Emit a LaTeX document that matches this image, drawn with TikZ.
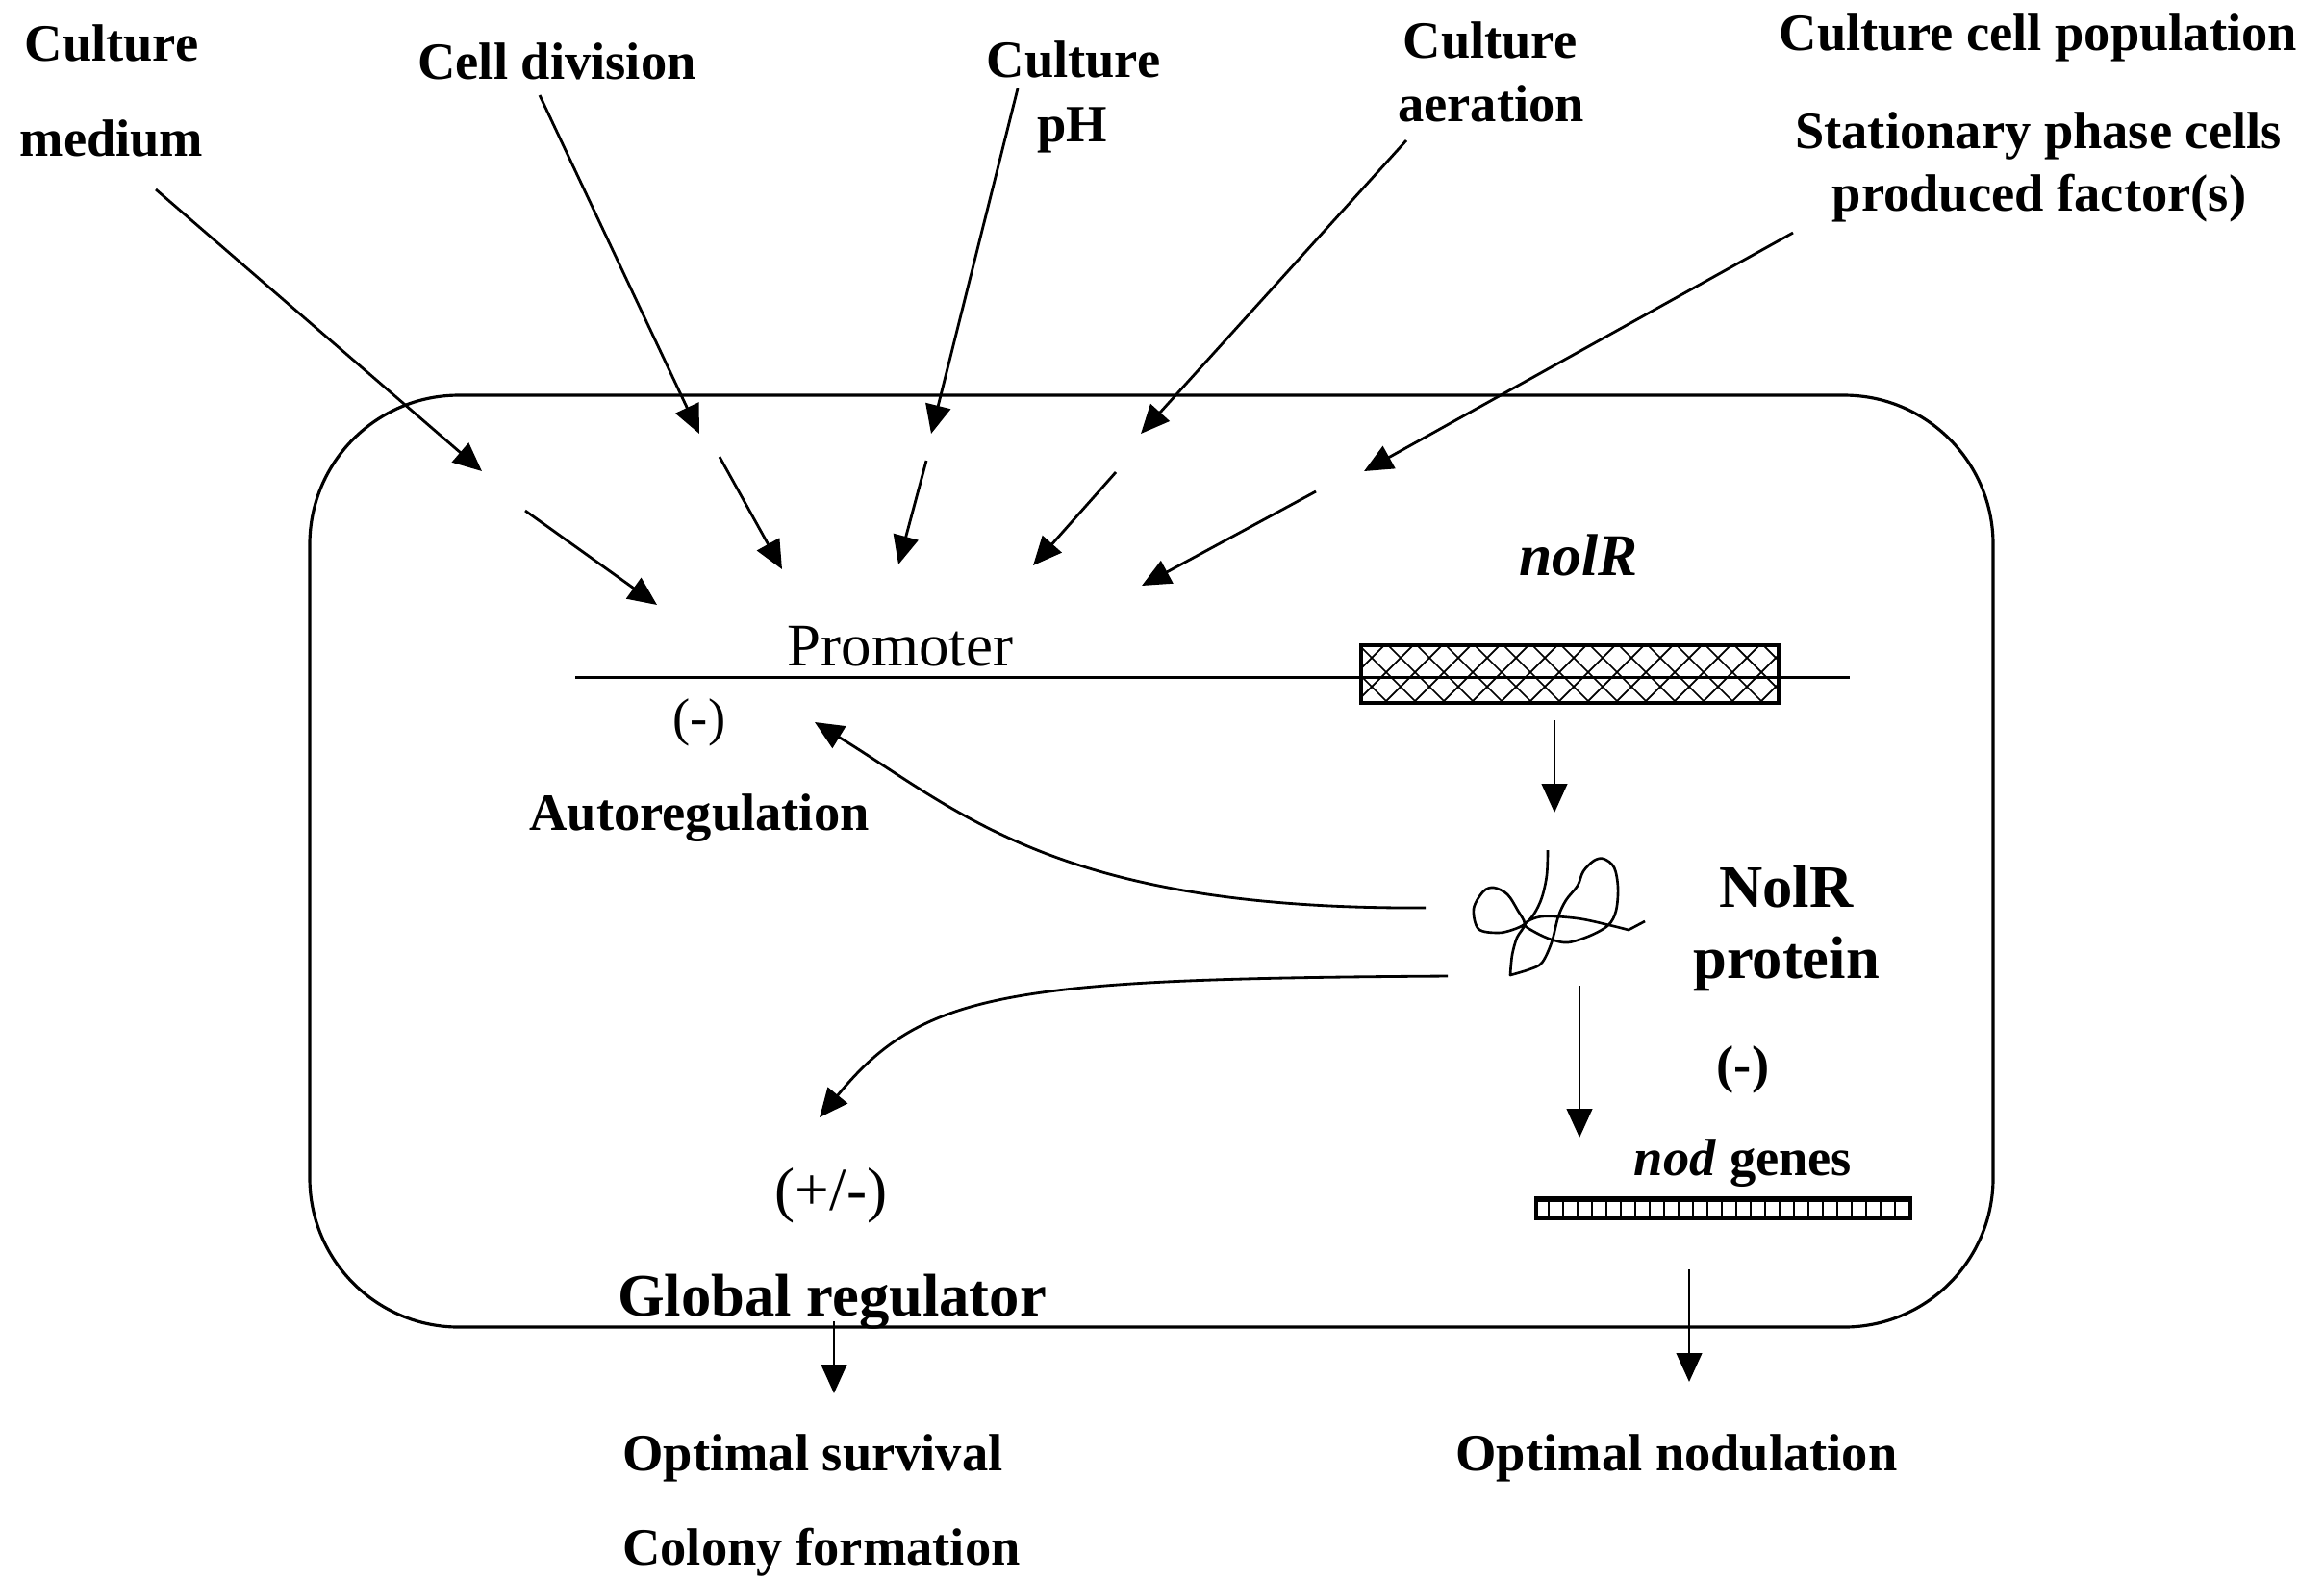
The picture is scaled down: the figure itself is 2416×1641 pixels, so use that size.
\documentclass[tikz,border=0pt]{standalone}
\usepackage{fontspec}
\setmainfont{Liberation Serif}
\usetikzlibrary{arrows.meta}
\begin{document}
\begin{tikzpicture}[x=0.01cm,y=-0.01cm,
  lab/.style={font=\bfseries\fontsize{15.5}{18}\selectfont,inner sep=0pt,anchor=base},
  biglab/.style={font=\bfseries\fontsize{17.8}{21}\selectfont,inner sep=0pt,anchor=base},
  sign/.style={font=\fontsize{15.5}{18}\selectfont,inner sep=0pt},
  arr/.style={line width=0.8pt,-{Triangle[length=8.5pt,width=7.5pt]}},
  wall/.style={line width=0.9pt},
  hatch/.style={line width=0.5pt}]

\useasboundingbox (0,0) rectangle (2416,1641);
\fill[white] (0,0) rectangle (2416,1641);

% the cell
\draw[wall, rounded corners=1.55cm] (322,411) rectangle (2072,1380);

% external conditions
\node[lab] (cm1) at (116,63) {Culture};
\node[lab] (cm2) at (116,162) {medium};
\node[lab] (cdiv) at (579,82) {Cell division};
\node[lab] (ph1) at (1116,80) {Culture};
\node[lab] (ph2) at (1115,147) {pH};
\node[lab] (ae1) at (1549,60) {Culture};
\node[lab] (ae2) at (1550,126) {aeration};
\node[lab] (pop) at (2119,52) {Culture cell population};
\node[lab] (st1) at (2119,154) {Stationary phase cells};
\node[lab] (st2) at (2120,219) {produced factor(s)};

% arrow end points
\coordinate (o1s) at (162,197);  \coordinate (o1e) at (501,490);
\coordinate (o2s) at (561,99);   \coordinate (o2e) at (727,451);
\coordinate (o3s) at (1058,92);  \coordinate (o3e) at (968,451);
\coordinate (o4s) at (1462,146); \coordinate (o4e) at (1186,451);
\coordinate (o5s) at (1864,242); \coordinate (o5e) at (1418,490);
\coordinate (i1s) at (546,531);  \coordinate (i1e) at (683,629);
\coordinate (i2s) at (748,475);  \coordinate (i2e) at (813,592);
\coordinate (i3s) at (963,479);  \coordinate (i3e) at (934,587);
\coordinate (i4s) at (1160,491); \coordinate (i4e) at (1074,588);
\coordinate (i5s) at (1368,511); \coordinate (i5e) at (1187,609);

\foreach \n in {1,...,5}{
  \draw[arr] (o\n s) -- (o\n e);
  \draw[arr] (i\n s) -- (i\n e);
}

% promoter and nolR gene
\node[font=\fontsize{17.9}{21}\selectfont,inner sep=0pt,anchor=base] (prom) at (936,692) {Promoter};
\node[font=\bfseries\itshape\fontsize{17.5}{21}\selectfont,inner sep=0pt,anchor=base] (nolr) at (1641,598) {nolR};

\node[draw, fill=white, line width=1pt, minimum width=4.34cm, minimum height=0.6cm,
      inner sep=0pt, anchor=north west] (gene) at (1413,669) {};
\begin{scope}
  \clip (gene.north west) rectangle (gene.south east);
  \foreach \a in {-3,...,16}{
    \draw[hatch] ({1411+30*\a},669) -- ++(60,60);
    \draw[hatch] ({1441+30*\a},669) -- ++(-60,60);
  }
\end{scope}
\coordinate (dnaL) at (598,704);
\coordinate (dnaR) at (1923,704);
\draw[line width=0.85pt] (dnaL) -- (dnaR);

% NolR protein
\draw[line width=0.75pt, line join=round]
  plot[smooth, tension=0.55] coordinates {
    (1609,884) (1608,910) (1603,933) (1595,950) (1585,961)
    (1572,967) (1557,970) (1537,966) (1532,945) (1542,927)
    (1553,923) (1567,930) (1578,947) (1585,961) (1577,975)
    (1572,993) (1570,1014)}
  -- plot[smooth, tension=0.55] coordinates {
    (1570,1014) (1590,1008) (1603,1001) (1613,980) (1620,953)
    (1628,936) (1640,921) (1646,906) (1657,895) (1667,893)
    (1678,902) (1682,923) (1680,947) (1672,962) (1653,973)
    (1630,980) (1613,977) (1597,970) (1585,961) (1603,953)
    (1640,955) (1673,962) (1693,967)}
  -- (1710,958);

\node[biglab] (np1) at (1857,943) {NolR};
\node[biglab] (np2) at (1857,1017) {protein};

\coordinate (g1) at (1616,749);  \coordinate (g2) at (1616,845);
\draw[arr] (g1) -- (g2);

% autoregulation
\node[sign] (neg1) at (727,751) {(-)};
\node[lab] (auto) at (727,863) {Autoregulation};
\coordinate (ar1) at (1482,944);
\coordinate (ar2) at (847,751);
\draw[arr] (ar1) .. controls (1100,946) and (1000,845) .. (ar2);

% global regulation
\coordinate (gr1) at (1505,1015);
\coordinate (gr2) at (852,1162);
\draw[arr] (gr1) .. controls (1050,1018) and (960,1030) .. (gr2);
\node[font=\fontsize{18}{21}\selectfont,inner sep=0pt] (pm) at (864,1243) {(+/-)};
\node[biglab] (glob) at (865,1368) {Global regulator};
\coordinate (s1) at (867,1374); \coordinate (s2) at (867,1449);
\draw[arr] (s1) -- (s2);
\node[lab] (surv) at (845,1529) {Optimal survival};
\node[lab] (col) at (854,1627) {Colony formation};

% nod genes
\coordinate (p1) at (1642,1025); \coordinate (p2) at (1642,1183);
\draw[arr] (p1) -- (p2);
\node[sign, font=\bfseries\fontsize{15.5}{18}\selectfont] (neg2) at (1812,1112) {(-)};
\node[lab] (nod) at (1812,1222) {\textit{nod} genes};
\node[draw, line width=1.1pt, minimum width=3.89cm, minimum height=0.21cm,
      inner sep=0pt, anchor=north west] (nodbar) at (1595,1244) {};
\draw[line width=0.6pt] (1595,1249) -- (1984,1249);
\foreach \k in {1,...,25}
  \draw[line width=0.6pt] ({1595+15*\k},1249) -- ({1595+15*\k},1265);
\coordinate (n1) at (1756,1320); \coordinate (n2) at (1756,1437);
\draw[arr] (n1) -- (n2);
\node[lab] (nodul) at (1743,1529) {Optimal nodulation};

\end{tikzpicture}
\end{document}
